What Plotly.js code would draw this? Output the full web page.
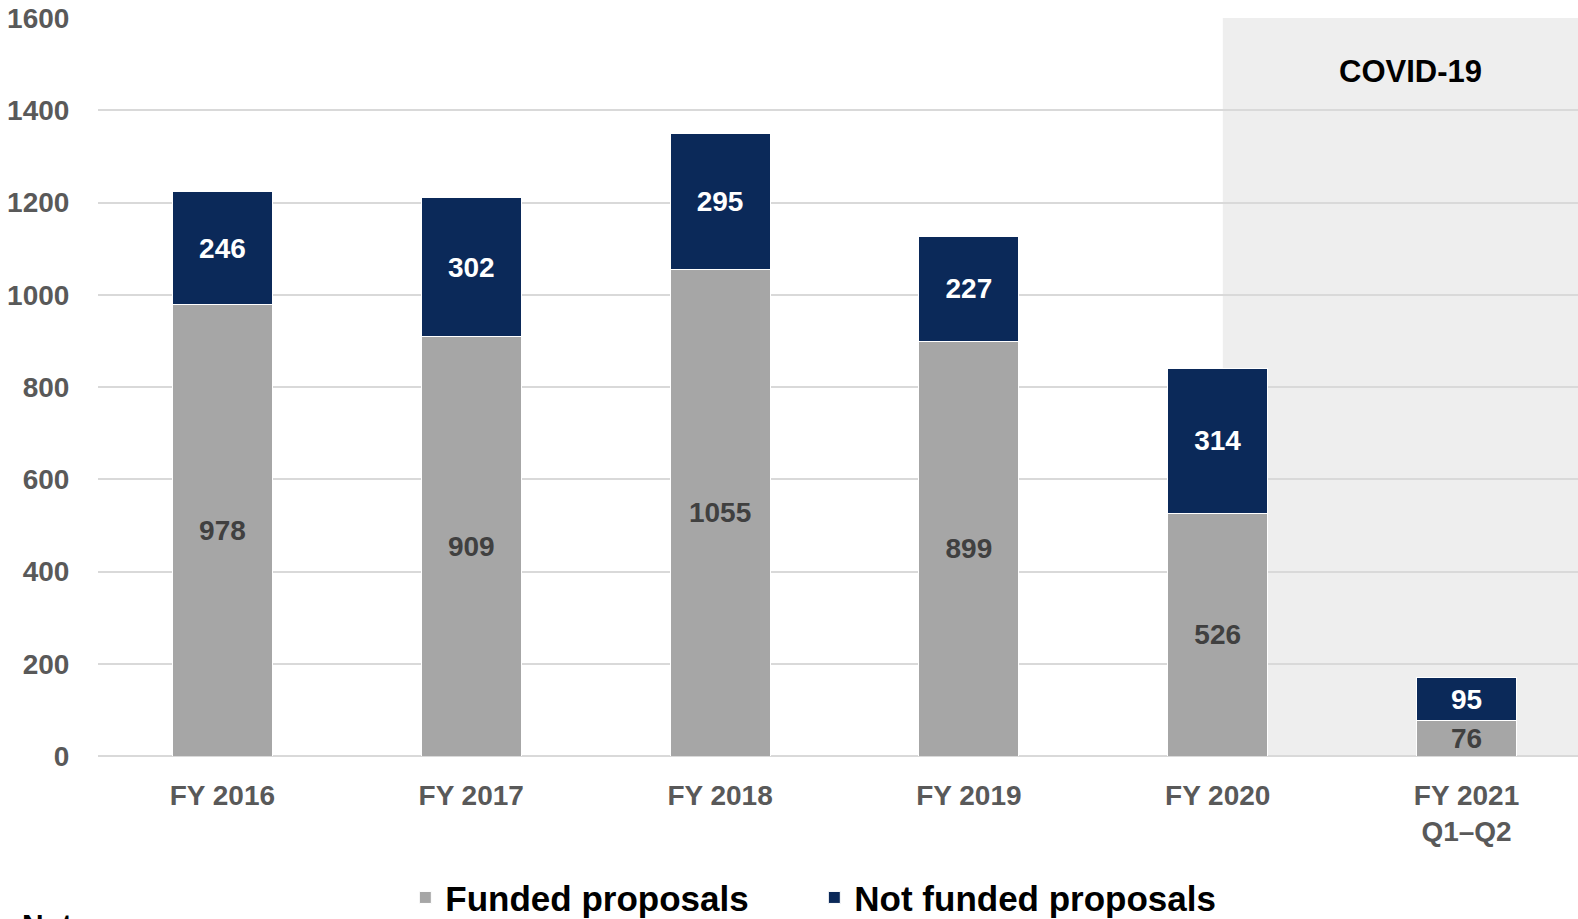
<!DOCTYPE html>
<html>
<head>
<meta charset="utf-8">
<script src="https://cdn.plot.ly/plotly-3.0.1.min.js"></script>
<style>
html,body{margin:0;padding:0;background:#fff;}
#chart{width:1578px;height:919px;}
</style>
</head>
<body>
<div id="chart"></div>
<script>
const categories = ["FY 2016", "FY 2017", "FY 2018", "FY 2019", "FY 2020", "FY 2021<br>Q1–Q2"];
const funded = [978, 909, 1055, 899, 526, 76];
const notFunded = [246, 302, 295, 227, 314, 95];
const yTicks = [0, 200, 400, 600, 800, 1000, 1200, 1400, 1600];

const FONT = '"Liberation Sans Narrow", "Arial Narrow", "Liberation Sans", Arial, sans-serif';

const traces = [
  {
    type: 'bar', name: 'Funded proposals', x: categories, y: funded,
    marker: {color: '#a6a6a6', line: {color: '#ffffff', width: 1}},
    text: funded.map(String), textposition: 'inside', insidetextanchor: 'middle',
    textangle: 0, constraintext: 'none',
    textfont: {family: FONT, size: 28, color: '#404040', weight: 'bold'},
    hoverinfo: 'skip'
  },
  {
    type: 'bar', name: 'Not funded proposals', x: categories, y: notFunded,
    marker: {color: '#0b2959', line: {color: '#ffffff', width: 1}},
    text: notFunded.map(String), textposition: 'inside', insidetextanchor: 'middle',
    textangle: 0, constraintext: 'none',
    textfont: {family: FONT, size: 28, color: '#ffffff', weight: 'bold'},
    hoverinfo: 'skip'
  }
];

const layout = {
  width: 1578, height: 919,
  margin: {l: 98, r: 0, t: 18, b: 163, autoexpand: false},
  paper_bgcolor: '#ffffff', plot_bgcolor: '#ffffff',
  barmode: 'stack', bargap: 0.598,
  font: {family: FONT, weight: 'bold'},
  uniformtext: {mode: 'show', minsize: 28},
  showlegend: true,
  legend: {
    orientation: 'h', x: 0.484, xanchor: 'center', y: -0.192, yanchor: 'middle',
    font: {family: FONT, size: 35, color: '#000000', weight: 'bold'},
    entrywidth: 364, entrywidthmode: 'pixels',
    traceorder: 'normal', itemclick: false, itemdoubleclick: false
  },
  xaxis: {
    type: 'category', range: [-0.5, 5.448], showgrid: false, zeroline: false, showline: false,
    tickfont: {family: FONT, size: 28, color: '#595959', weight: 'bold'},
    ticks: 'outside', ticklen: 14, tickcolor: 'rgba(0,0,0,0)', fixedrange: true
  },
  yaxis: {
    range: [0, 1600], tickvals: yTicks, ticktext: yTicks.map(String),
    showgrid: true, gridcolor: '#d9d9d9', gridwidth: 2,
    zeroline: true, zerolinecolor: '#d9d9d9', zerolinewidth: 2, showline: false,
    tickfont: {family: FONT, size: 28, color: '#595959', weight: 'bold'},
    ticks: 'outside', ticklen: 22, tickcolor: 'rgba(0,0,0,0)', fixedrange: true
  },
  shapes: [
    {type: 'rect', xref: 'paper', yref: 'paper', x0: 0.760, x1: 1, y0: 0, y1: 1,
     fillcolor: '#eeeeee', line: {width: 0}, layer: 'below'}
  ],
  annotations: [
    {text: 'COVID-19', xref: 'paper', yref: 'y', x: 0.8865, y: 1485, showarrow: false,
     xanchor: 'center', yanchor: 'middle',
     font: {family: FONT, size: 31, color: '#000000', weight: 'bold'}},
    {text: 'Note:', xref: 'paper', yref: 'paper', x: -0.0527, y: -0.203,
     xanchor: 'left', yanchor: 'top', showarrow: false,
     font: {family: FONT, size: 30, color: '#000000', weight: 'bold'}}
  ]
};

Plotly.newPlot('chart', traces, layout, {displayModeBar: false, staticPlot: true});
</script>
</body>
</html>
